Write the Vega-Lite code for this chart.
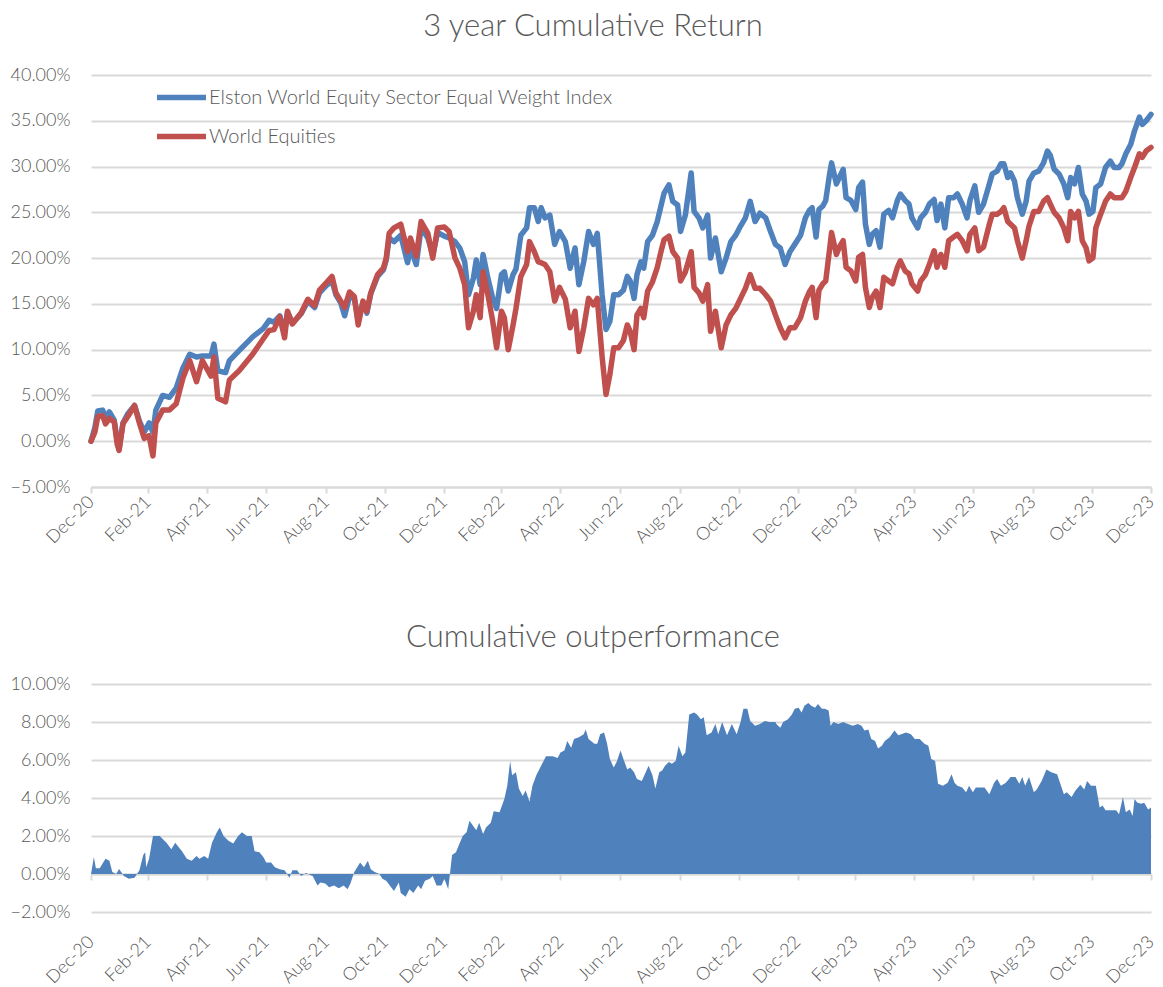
{
  "$schema": "https://vega.github.io/schema/vega-lite/v6.json",
  "background": "white",
  "padding": {"left": 10, "top": 11, "right": 0, "bottom": 0},
  "spacing": 75,
  "config": {
    "font": "Lato",
    "view": {"stroke": null},
    "axis": {"labelColor": "#595959", "labelFont": "Lato", "labelFontSize": 18, "labelFontWeight": 300, "gridColor": "#D9D9D9", "gridWidth": 2, "domainColor": "#D9D9D9", "domainWidth": 2, "tickColor": "#D9D9D9", "tickWidth": 2, "title": null},
    "title": {"font": "Lato", "fontSize": 31, "fontWeight": 300, "color": "#595959", "anchor": "middle", "dx": -28},
    "legend": {"labelFont": "Lato", "labelFontWeight": 300}
  },
  "datasets": {
    "perf": [
      {"date": "2020-12-31", "elston": 0, "world": 0},
      {"date": "2021-01-04", "elston": 1.5, "world": 1.0},
      {"date": "2021-01-07", "elston": 3.3, "world": 2.7},
      {"date": "2021-01-12", "elston": 3.4, "world": 2.8},
      {"date": "2021-01-15", "elston": 2.6, "world": 1.9},
      {"date": "2021-01-19", "elston": 3.2, "world": 2.5},
      {"date": "2021-01-24", "elston": 2.3, "world": 2.1},
      {"date": "2021-01-27", "elston": 0.2, "world": -0.3},
      {"date": "2021-01-29", "elston": -0.9, "world": -1.0},
      {"date": "2021-02-02", "elston": 2.0, "world": 1.9},
      {"date": "2021-02-07", "elston": 3.0, "world": 2.7},
      {"date": "2021-02-14", "elston": 3.9, "world": 3.9},
      {"date": "2021-02-19", "elston": 2.2, "world": 2.0},
      {"date": "2021-02-24", "elston": 1.0, "world": 0.3},
      {"date": "2021-03-01", "elston": 2.0, "world": 0.6},
      {"date": "2021-03-05", "elston": 1.0, "world": -1.6},
      {"date": "2021-03-08", "elston": 3.4, "world": 2.0},
      {"date": "2021-03-15", "elston": 5.0, "world": 3.4},
      {"date": "2021-03-22", "elston": 4.8, "world": 3.4},
      {"date": "2021-03-29", "elston": 5.8, "world": 4.1},
      {"date": "2021-04-05", "elston": 8.0, "world": 6.9},
      {"date": "2021-04-12", "elston": 9.5, "world": 8.8},
      {"date": "2021-04-19", "elston": 9.2, "world": 6.5},
      {"date": "2021-04-25", "elston": 9.3, "world": 8.8},
      {"date": "2021-05-04", "elston": 9.3, "world": 7.1},
      {"date": "2021-05-07", "elston": 10.6, "world": 9.2},
      {"date": "2021-05-11", "elston": 7.7, "world": 4.7},
      {"date": "2021-05-19", "elston": 7.5, "world": 4.3},
      {"date": "2021-05-23", "elston": 8.8, "world": 6.7},
      {"date": "2021-06-02", "elston": 9.9, "world": 7.7},
      {"date": "2021-06-16", "elston": 11.4, "world": 9.5},
      {"date": "2021-06-27", "elston": 12.3, "world": 11.2},
      {"date": "2021-07-03", "elston": 13.2, "world": 12.1},
      {"date": "2021-07-08", "elston": 13.0, "world": 12.2},
      {"date": "2021-07-14", "elston": 13.7, "world": 13.6},
      {"date": "2021-07-19", "elston": 12.0, "world": 11.3},
      {"date": "2021-07-22", "elston": 14.1, "world": 14.2},
      {"date": "2021-07-27", "elston": 12.9, "world": 12.8},
      {"date": "2021-08-05", "elston": 13.9, "world": 14.0},
      {"date": "2021-08-12", "elston": 15.3, "world": 15.5},
      {"date": "2021-08-19", "elston": 14.6, "world": 14.8},
      {"date": "2021-08-24", "elston": 16.2, "world": 16.5},
      {"date": "2021-08-31", "elston": 17.0, "world": 17.3},
      {"date": "2021-09-06", "elston": 17.5, "world": 18.0},
      {"date": "2021-09-10", "elston": 16.0, "world": 16.2},
      {"date": "2021-09-15", "elston": 15.1, "world": 15.3},
      {"date": "2021-09-19", "elston": 13.7, "world": 14.6},
      {"date": "2021-09-24", "elston": 15.8, "world": 16.3},
      {"date": "2021-09-29", "elston": 15.6, "world": 15.8},
      {"date": "2021-10-03", "elston": 13.3, "world": 12.7},
      {"date": "2021-10-08", "elston": 15.2, "world": 15.3},
      {"date": "2021-10-12", "elston": 14.0, "world": 14.2},
      {"date": "2021-10-16", "elston": 16.1, "world": 16.2},
      {"date": "2021-10-23", "elston": 18.0, "world": 18.2},
      {"date": "2021-10-29", "elston": 18.7, "world": 18.9},
      {"date": "2021-11-01", "elston": 19.8, "world": 20.0},
      {"date": "2021-11-04", "elston": 22.2, "world": 22.7},
      {"date": "2021-11-09", "elston": 21.8, "world": 23.3},
      {"date": "2021-11-16", "elston": 22.5, "world": 23.7},
      {"date": "2021-11-23", "elston": 19.5, "world": 20.7},
      {"date": "2021-11-26", "elston": 21.1, "world": 22.2},
      {"date": "2021-12-02", "elston": 19.3, "world": 20.2},
      {"date": "2021-12-07", "elston": 23.3, "world": 24.0},
      {"date": "2021-12-14", "elston": 22.2, "world": 22.7},
      {"date": "2021-12-19", "elston": 20.3, "world": 20.0},
      {"date": "2021-12-24", "elston": 22.8, "world": 23.3},
      {"date": "2021-12-31", "elston": 22.4, "world": 23.4},
      {"date": "2022-01-05", "elston": 22.2, "world": 22.9},
      {"date": "2022-01-11", "elston": 21.8, "world": 20.0},
      {"date": "2022-01-16", "elston": 21.1, "world": 18.9},
      {"date": "2022-01-21", "elston": 19.6, "world": 17.1},
      {"date": "2022-01-25", "elston": 16.0, "world": 12.4},
      {"date": "2022-01-30", "elston": 17.8, "world": 14.2},
      {"date": "2022-02-02", "elston": 19.8, "world": 16.0},
      {"date": "2022-02-06", "elston": 17.1, "world": 13.5},
      {"date": "2022-02-09", "elston": 20.4, "world": 18.5},
      {"date": "2022-02-14", "elston": 17.8, "world": 16.0},
      {"date": "2022-02-19", "elston": 15.6, "world": 13.1},
      {"date": "2022-02-23", "elston": 14.5, "world": 10.2},
      {"date": "2022-02-28", "elston": 18.2, "world": 14.2},
      {"date": "2022-03-03", "elston": 18.5, "world": 13.5},
      {"date": "2022-03-07", "elston": 16.4, "world": 10.0},
      {"date": "2022-03-12", "elston": 18.2, "world": 12.7},
      {"date": "2022-03-15", "elston": 18.8, "world": 14.5},
      {"date": "2022-03-20", "elston": 22.5, "world": 18.0},
      {"date": "2022-03-26", "elston": 23.3, "world": 19.3},
      {"date": "2022-03-29", "elston": 25.5, "world": 21.8},
      {"date": "2022-04-03", "elston": 25.5, "world": 20.7},
      {"date": "2022-04-07", "elston": 24.0, "world": 19.6},
      {"date": "2022-04-10", "elston": 25.5, "world": 19.5},
      {"date": "2022-04-14", "elston": 24.4, "world": 19.3},
      {"date": "2022-04-19", "elston": 24.7, "world": 18.5},
      {"date": "2022-04-24", "elston": 21.5, "world": 15.3},
      {"date": "2022-04-29", "elston": 22.9, "world": 16.8},
      {"date": "2022-05-05", "elston": 21.8, "world": 15.5},
      {"date": "2022-05-10", "elston": 18.9, "world": 12.4},
      {"date": "2022-05-15", "elston": 21.1, "world": 14.2},
      {"date": "2022-05-19", "elston": 17.1, "world": 9.8},
      {"date": "2022-05-24", "elston": 19.6, "world": 12.4},
      {"date": "2022-05-29", "elston": 22.9, "world": 15.6},
      {"date": "2022-06-03", "elston": 21.5, "world": 14.9},
      {"date": "2022-06-07", "elston": 22.7, "world": 15.6},
      {"date": "2022-06-12", "elston": 16.0, "world": 9.2},
      {"date": "2022-06-16", "elston": 12.2, "world": 5.1},
      {"date": "2022-06-20", "elston": 13.1, "world": 7.3},
      {"date": "2022-06-24", "elston": 16.0, "world": 10.2},
      {"date": "2022-06-29", "elston": 16.0, "world": 10.2},
      {"date": "2022-07-04", "elston": 16.5, "world": 11.0},
      {"date": "2022-07-08", "elston": 18.0, "world": 12.7},
      {"date": "2022-07-11", "elston": 17.5, "world": 12.0},
      {"date": "2022-07-15", "elston": 15.6, "world": 10.0},
      {"date": "2022-07-18", "elston": 18.2, "world": 13.8},
      {"date": "2022-07-22", "elston": 19.6, "world": 14.5},
      {"date": "2022-07-25", "elston": 18.9, "world": 13.5},
      {"date": "2022-07-29", "elston": 21.8, "world": 16.4},
      {"date": "2022-08-03", "elston": 22.5, "world": 17.4},
      {"date": "2022-08-08", "elston": 24.0, "world": 19.0},
      {"date": "2022-08-12", "elston": 25.8, "world": 20.8},
      {"date": "2022-08-15", "elston": 27.1, "world": 22.0},
      {"date": "2022-08-20", "elston": 28.0, "world": 22.4},
      {"date": "2022-08-24", "elston": 26.2, "world": 20.7},
      {"date": "2022-08-29", "elston": 25.8, "world": 20.0},
      {"date": "2022-09-01", "elston": 22.9, "world": 17.5},
      {"date": "2022-09-06", "elston": 24.7, "world": 18.5},
      {"date": "2022-09-12", "elston": 29.3, "world": 20.7},
      {"date": "2022-09-15", "elston": 25.1, "world": 16.8},
      {"date": "2022-09-20", "elston": 24.4, "world": 16.2},
      {"date": "2022-09-24", "elston": 23.3, "world": 15.3},
      {"date": "2022-09-29", "elston": 24.7, "world": 17.1},
      {"date": "2022-10-02", "elston": 20.0, "world": 12.0},
      {"date": "2022-10-07", "elston": 22.2, "world": 14.2},
      {"date": "2022-10-13", "elston": 18.5, "world": 10.2},
      {"date": "2022-10-18", "elston": 20.0, "world": 12.7},
      {"date": "2022-10-23", "elston": 21.8, "world": 13.8},
      {"date": "2022-10-28", "elston": 22.5, "world": 14.5},
      {"date": "2022-11-02", "elston": 23.5, "world": 15.6},
      {"date": "2022-11-07", "elston": 24.4, "world": 16.7},
      {"date": "2022-11-12", "elston": 26.2, "world": 18.2},
      {"date": "2022-11-17", "elston": 24.0, "world": 16.7},
      {"date": "2022-11-22", "elston": 24.9, "world": 16.7},
      {"date": "2022-11-28", "elston": 24.4, "world": 16.0},
      {"date": "2022-12-03", "elston": 22.9, "world": 15.3},
      {"date": "2022-12-08", "elston": 21.5, "world": 13.8},
      {"date": "2022-12-13", "elston": 21.1, "world": 12.4},
      {"date": "2022-12-18", "elston": 19.3, "world": 11.3},
      {"date": "2022-12-23", "elston": 20.7, "world": 12.4},
      {"date": "2022-12-28", "elston": 21.5, "world": 12.4},
      {"date": "2023-01-03", "elston": 22.5, "world": 13.5},
      {"date": "2023-01-08", "elston": 24.4, "world": 15.3},
      {"date": "2023-01-12", "elston": 25.2, "world": 16.3},
      {"date": "2023-01-15", "elston": 25.5, "world": 16.8},
      {"date": "2023-01-19", "elston": 22.3, "world": 13.5},
      {"date": "2023-01-22", "elston": 25.3, "world": 16.5},
      {"date": "2023-01-26", "elston": 25.7, "world": 17.2},
      {"date": "2023-01-29", "elston": 26.3, "world": 17.5},
      {"date": "2023-02-02", "elston": 29.2, "world": 21.0},
      {"date": "2023-02-04", "elston": 30.4, "world": 22.8},
      {"date": "2023-02-09", "elston": 28.1, "world": 20.4},
      {"date": "2023-02-12", "elston": 28.8, "world": 21.2},
      {"date": "2023-02-16", "elston": 29.7, "world": 21.9},
      {"date": "2023-02-19", "elston": 26.6, "world": 19.0},
      {"date": "2023-02-24", "elston": 26.3, "world": 18.6},
      {"date": "2023-03-01", "elston": 25.3, "world": 17.5},
      {"date": "2023-03-04", "elston": 27.7, "world": 20.1},
      {"date": "2023-03-08", "elston": 28.3, "world": 20.4},
      {"date": "2023-03-11", "elston": 23.7, "world": 16.8},
      {"date": "2023-03-15", "elston": 21.5, "world": 14.6},
      {"date": "2023-03-18", "elston": 22.6, "world": 15.7},
      {"date": "2023-03-22", "elston": 23.0, "world": 16.4},
      {"date": "2023-03-26", "elston": 21.2, "world": 14.6},
      {"date": "2023-03-30", "elston": 24.8, "world": 17.9},
      {"date": "2023-04-04", "elston": 25.2, "world": 17.5},
      {"date": "2023-04-08", "elston": 24.4, "world": 17.2},
      {"date": "2023-04-13", "elston": 26.3, "world": 19.0},
      {"date": "2023-04-16", "elston": 27.0, "world": 19.7},
      {"date": "2023-04-21", "elston": 26.3, "world": 18.6},
      {"date": "2023-04-25", "elston": 25.9, "world": 18.3},
      {"date": "2023-04-28", "elston": 24.4, "world": 17.2},
      {"date": "2023-05-04", "elston": 23.3, "world": 16.4},
      {"date": "2023-05-07", "elston": 24.4, "world": 17.5},
      {"date": "2023-05-12", "elston": 25.0, "world": 18.2},
      {"date": "2023-05-16", "elston": 25.9, "world": 19.3},
      {"date": "2023-05-21", "elston": 26.4, "world": 20.8},
      {"date": "2023-05-24", "elston": 24.1, "world": 19.0},
      {"date": "2023-05-28", "elston": 25.9, "world": 20.4},
      {"date": "2023-06-01", "elston": 23.3, "world": 19.0},
      {"date": "2023-06-05", "elston": 26.6, "world": 21.9},
      {"date": "2023-06-10", "elston": 26.6, "world": 22.3},
      {"date": "2023-06-14", "elston": 27.0, "world": 22.6},
      {"date": "2023-06-19", "elston": 25.9, "world": 21.9},
      {"date": "2023-06-24", "elston": 24.4, "world": 20.8},
      {"date": "2023-06-27", "elston": 26.3, "world": 22.6},
      {"date": "2023-07-02", "elston": 27.9, "world": 23.3},
      {"date": "2023-07-06", "elston": 25.0, "world": 20.8},
      {"date": "2023-07-11", "elston": 25.9, "world": 21.2},
      {"date": "2023-07-17", "elston": 28.1, "world": 23.7},
      {"date": "2023-07-20", "elston": 29.2, "world": 24.8},
      {"date": "2023-07-25", "elston": 29.5, "world": 24.8},
      {"date": "2023-07-29", "elston": 30.3, "world": 25.1},
      {"date": "2023-08-01", "elston": 30.3, "world": 25.5},
      {"date": "2023-08-05", "elston": 28.8, "world": 24.0},
      {"date": "2023-08-08", "elston": 29.3, "world": 23.7},
      {"date": "2023-08-12", "elston": 28.4, "world": 23.3},
      {"date": "2023-08-15", "elston": 26.6, "world": 21.9},
      {"date": "2023-08-20", "elston": 24.8, "world": 20.0},
      {"date": "2023-08-24", "elston": 26.2, "world": 21.9},
      {"date": "2023-08-27", "elston": 28.4, "world": 23.5},
      {"date": "2023-09-01", "elston": 29.3, "world": 25.1},
      {"date": "2023-09-06", "elston": 29.5, "world": 25.1},
      {"date": "2023-09-11", "elston": 30.4, "world": 26.2},
      {"date": "2023-09-15", "elston": 31.7, "world": 26.6},
      {"date": "2023-09-18", "elston": 31.2, "world": 25.9},
      {"date": "2023-09-22", "elston": 29.7, "world": 25.0},
      {"date": "2023-09-27", "elston": 29.2, "world": 24.4},
      {"date": "2023-10-02", "elston": 28.1, "world": 23.3},
      {"date": "2023-10-06", "elston": 26.6, "world": 21.9},
      {"date": "2023-10-09", "elston": 28.8, "world": 25.1},
      {"date": "2023-10-13", "elston": 28.1, "world": 24.4},
      {"date": "2023-10-17", "elston": 29.9, "world": 25.1},
      {"date": "2023-10-21", "elston": 27.0, "world": 21.9},
      {"date": "2023-10-25", "elston": 26.2, "world": 21.1},
      {"date": "2023-10-28", "elston": 24.8, "world": 19.7},
      {"date": "2023-11-01", "elston": 25.1, "world": 20.0},
      {"date": "2023-11-04", "elston": 27.7, "world": 23.3},
      {"date": "2023-11-09", "elston": 28.1, "world": 24.8},
      {"date": "2023-11-14", "elston": 29.9, "world": 26.2},
      {"date": "2023-11-19", "elston": 30.6, "world": 27.0},
      {"date": "2023-11-23", "elston": 29.9, "world": 26.6},
      {"date": "2023-11-28", "elston": 29.9, "world": 26.6},
      {"date": "2023-12-01", "elston": 30.3, "world": 26.6},
      {"date": "2023-12-05", "elston": 31.4, "world": 27.3},
      {"date": "2023-12-10", "elston": 32.4, "world": 28.8},
      {"date": "2023-12-14", "elston": 33.9, "world": 29.9},
      {"date": "2023-12-19", "elston": 35.4, "world": 31.4},
      {"date": "2023-12-22", "elston": 34.6, "world": 31.0},
      {"date": "2023-12-26", "elston": 35.0, "world": 31.7},
      {"date": "2023-12-31", "elston": 35.7, "world": 32.1}
    ],
    "outperf": [
      {"date": "2020-12-31", "v": 0},
      {"date": "2021-01-03", "v": 0.9},
      {"date": "2021-01-05", "v": 0.3},
      {"date": "2021-01-09", "v": 0.3},
      {"date": "2021-01-15", "v": 0.8},
      {"date": "2021-01-19", "v": 0.7},
      {"date": "2021-01-22", "v": 0.1},
      {"date": "2021-01-26", "v": 0.0},
      {"date": "2021-01-29", "v": 0.26},
      {"date": "2021-02-03", "v": -0.1},
      {"date": "2021-02-08", "v": -0.25},
      {"date": "2021-02-14", "v": -0.2},
      {"date": "2021-02-19", "v": 0.2},
      {"date": "2021-02-23", "v": 1.0},
      {"date": "2021-02-25", "v": 1.15},
      {"date": "2021-02-26", "v": 0.35},
      {"date": "2021-03-01", "v": 0.8},
      {"date": "2021-03-05", "v": 2.0},
      {"date": "2021-03-12", "v": 2.0},
      {"date": "2021-03-19", "v": 1.65},
      {"date": "2021-03-24", "v": 1.3},
      {"date": "2021-03-28", "v": 1.65},
      {"date": "2021-04-04", "v": 1.2},
      {"date": "2021-04-09", "v": 0.8},
      {"date": "2021-04-14", "v": 0.7},
      {"date": "2021-04-19", "v": 0.95},
      {"date": "2021-04-22", "v": 0.8},
      {"date": "2021-04-27", "v": 0.95},
      {"date": "2021-05-01", "v": 0.8},
      {"date": "2021-05-05", "v": 1.65},
      {"date": "2021-05-10", "v": 2.2},
      {"date": "2021-05-13", "v": 2.45},
      {"date": "2021-05-17", "v": 2.0},
      {"date": "2021-05-22", "v": 1.75},
      {"date": "2021-05-27", "v": 1.6},
      {"date": "2021-06-01", "v": 2.0},
      {"date": "2021-06-05", "v": 2.2},
      {"date": "2021-06-10", "v": 2.0},
      {"date": "2021-06-15", "v": 2.0},
      {"date": "2021-06-18", "v": 1.2},
      {"date": "2021-06-23", "v": 1.15},
      {"date": "2021-06-27", "v": 0.9},
      {"date": "2021-06-30", "v": 0.6},
      {"date": "2021-07-05", "v": 0.6},
      {"date": "2021-07-09", "v": 0.35},
      {"date": "2021-07-14", "v": 0.25},
      {"date": "2021-07-19", "v": 0.2},
      {"date": "2021-07-24", "v": -0.2},
      {"date": "2021-07-27", "v": 0.2},
      {"date": "2021-08-01", "v": 0.2},
      {"date": "2021-08-05", "v": -0.1},
      {"date": "2021-08-10", "v": 0.05},
      {"date": "2021-08-17", "v": -0.1},
      {"date": "2021-08-22", "v": -0.6},
      {"date": "2021-08-25", "v": -0.45},
      {"date": "2021-08-30", "v": -0.5},
      {"date": "2021-09-03", "v": -0.7},
      {"date": "2021-09-08", "v": -0.6},
      {"date": "2021-09-13", "v": -0.75},
      {"date": "2021-09-18", "v": -0.6},
      {"date": "2021-09-22", "v": -0.8},
      {"date": "2021-09-25", "v": -0.5},
      {"date": "2021-09-29", "v": 0.1},
      {"date": "2021-10-05", "v": 0.6},
      {"date": "2021-10-09", "v": 0.35},
      {"date": "2021-10-13", "v": 0.7},
      {"date": "2021-10-16", "v": 0.25},
      {"date": "2021-10-20", "v": 0.1},
      {"date": "2021-10-25", "v": 0.0},
      {"date": "2021-10-28", "v": -0.25},
      {"date": "2021-11-01", "v": -0.35},
      {"date": "2021-11-06", "v": -0.7},
      {"date": "2021-11-09", "v": -0.9},
      {"date": "2021-11-14", "v": -0.45},
      {"date": "2021-11-16", "v": -1.0},
      {"date": "2021-11-21", "v": -1.2},
      {"date": "2021-11-25", "v": -0.8},
      {"date": "2021-11-29", "v": -1.0},
      {"date": "2021-12-04", "v": -0.6},
      {"date": "2021-12-07", "v": -0.8},
      {"date": "2021-12-11", "v": -0.35},
      {"date": "2021-12-16", "v": -0.25},
      {"date": "2021-12-19", "v": -0.1},
      {"date": "2021-12-23", "v": -0.6},
      {"date": "2021-12-28", "v": -0.6},
      {"date": "2021-12-31", "v": -0.25},
      {"date": "2022-01-04", "v": -0.8},
      {"date": "2022-01-06", "v": 0.1},
      {"date": "2022-01-08", "v": 1.0},
      {"date": "2022-01-12", "v": 1.15},
      {"date": "2022-01-16", "v": 1.65},
      {"date": "2022-01-19", "v": 2.0},
      {"date": "2022-01-23", "v": 2.2},
      {"date": "2022-01-26", "v": 2.8},
      {"date": "2022-02-02", "v": 2.3},
      {"date": "2022-02-05", "v": 2.7},
      {"date": "2022-02-09", "v": 2.1},
      {"date": "2022-02-12", "v": 2.45},
      {"date": "2022-02-17", "v": 2.7},
      {"date": "2022-02-20", "v": 3.3},
      {"date": "2022-02-26", "v": 3.25},
      {"date": "2022-03-03", "v": 3.95},
      {"date": "2022-03-06", "v": 4.65},
      {"date": "2022-03-09", "v": 5.95},
      {"date": "2022-03-11", "v": 5.2},
      {"date": "2022-03-15", "v": 5.35},
      {"date": "2022-03-18", "v": 4.5},
      {"date": "2022-03-22", "v": 4.1},
      {"date": "2022-03-25", "v": 4.4},
      {"date": "2022-03-29", "v": 3.8},
      {"date": "2022-04-01", "v": 4.65},
      {"date": "2022-04-05", "v": 5.2},
      {"date": "2022-04-08", "v": 5.5},
      {"date": "2022-04-12", "v": 5.9},
      {"date": "2022-04-15", "v": 6.2},
      {"date": "2022-04-22", "v": 6.2},
      {"date": "2022-04-27", "v": 6.1},
      {"date": "2022-04-30", "v": 6.4},
      {"date": "2022-05-04", "v": 6.5},
      {"date": "2022-05-07", "v": 7.0},
      {"date": "2022-05-11", "v": 6.65},
      {"date": "2022-05-14", "v": 7.1},
      {"date": "2022-05-19", "v": 7.2},
      {"date": "2022-05-24", "v": 7.35},
      {"date": "2022-05-26", "v": 7.6},
      {"date": "2022-05-29", "v": 7.1},
      {"date": "2022-06-04", "v": 6.85},
      {"date": "2022-06-07", "v": 6.85},
      {"date": "2022-06-10", "v": 7.35},
      {"date": "2022-06-14", "v": 7.45},
      {"date": "2022-06-17", "v": 6.9},
      {"date": "2022-06-20", "v": 6.05},
      {"date": "2022-06-24", "v": 5.6},
      {"date": "2022-06-27", "v": 5.9},
      {"date": "2022-07-01", "v": 6.5},
      {"date": "2022-07-04", "v": 6.05},
      {"date": "2022-07-08", "v": 5.5},
      {"date": "2022-07-11", "v": 5.6},
      {"date": "2022-07-15", "v": 5.35},
      {"date": "2022-07-18", "v": 5.0},
      {"date": "2022-07-23", "v": 4.9},
      {"date": "2022-07-27", "v": 5.35},
      {"date": "2022-07-30", "v": 5.7},
      {"date": "2022-08-03", "v": 5.2},
      {"date": "2022-08-06", "v": 4.5},
      {"date": "2022-08-10", "v": 5.35},
      {"date": "2022-08-13", "v": 5.45},
      {"date": "2022-08-16", "v": 5.7},
      {"date": "2022-08-20", "v": 5.9},
      {"date": "2022-08-23", "v": 5.8},
      {"date": "2022-08-27", "v": 5.95},
      {"date": "2022-08-30", "v": 6.75},
      {"date": "2022-09-03", "v": 6.2},
      {"date": "2022-09-06", "v": 6.4},
      {"date": "2022-09-10", "v": 8.4},
      {"date": "2022-09-15", "v": 8.5},
      {"date": "2022-09-18", "v": 8.4},
      {"date": "2022-09-22", "v": 8.15},
      {"date": "2022-09-25", "v": 8.25},
      {"date": "2022-09-28", "v": 7.3},
      {"date": "2022-10-03", "v": 7.45},
      {"date": "2022-10-07", "v": 7.9},
      {"date": "2022-10-10", "v": 7.35},
      {"date": "2022-10-14", "v": 8.0},
      {"date": "2022-10-19", "v": 7.3},
      {"date": "2022-10-24", "v": 7.9},
      {"date": "2022-10-29", "v": 7.35},
      {"date": "2022-11-02", "v": 8.0},
      {"date": "2022-11-05", "v": 8.7},
      {"date": "2022-11-09", "v": 8.7},
      {"date": "2022-11-12", "v": 8.05},
      {"date": "2022-11-17", "v": 7.8},
      {"date": "2022-11-22", "v": 7.9},
      {"date": "2022-11-27", "v": 8.05},
      {"date": "2022-12-02", "v": 8.0},
      {"date": "2022-12-08", "v": 8.0},
      {"date": "2022-12-09", "v": 7.9},
      {"date": "2022-12-13", "v": 7.7},
      {"date": "2022-12-16", "v": 8.0},
      {"date": "2022-12-21", "v": 8.15},
      {"date": "2022-12-25", "v": 8.4},
      {"date": "2022-12-28", "v": 8.7},
      {"date": "2023-01-01", "v": 8.75},
      {"date": "2023-01-04", "v": 8.5},
      {"date": "2023-01-07", "v": 8.85},
      {"date": "2023-01-11", "v": 9.0},
      {"date": "2023-01-14", "v": 8.85},
      {"date": "2023-01-18", "v": 8.75},
      {"date": "2023-01-21", "v": 8.95},
      {"date": "2023-01-25", "v": 8.7},
      {"date": "2023-01-28", "v": 8.7},
      {"date": "2023-02-01", "v": 8.6},
      {"date": "2023-02-03", "v": 7.8},
      {"date": "2023-02-06", "v": 8.0},
      {"date": "2023-02-11", "v": 7.9},
      {"date": "2023-02-16", "v": 8.0},
      {"date": "2023-02-21", "v": 7.9},
      {"date": "2023-02-26", "v": 7.8},
      {"date": "2023-03-03", "v": 7.9},
      {"date": "2023-03-07", "v": 7.8},
      {"date": "2023-03-10", "v": 7.55},
      {"date": "2023-03-14", "v": 7.6},
      {"date": "2023-03-17", "v": 7.1},
      {"date": "2023-03-21", "v": 7.0},
      {"date": "2023-03-24", "v": 6.6},
      {"date": "2023-03-28", "v": 6.75},
      {"date": "2023-03-31", "v": 7.0},
      {"date": "2023-04-05", "v": 7.2},
      {"date": "2023-04-10", "v": 7.55},
      {"date": "2023-04-14", "v": 7.3},
      {"date": "2023-04-17", "v": 7.35},
      {"date": "2023-04-22", "v": 7.45},
      {"date": "2023-04-27", "v": 7.35},
      {"date": "2023-05-01", "v": 7.1},
      {"date": "2023-05-06", "v": 7.1},
      {"date": "2023-05-11", "v": 6.85},
      {"date": "2023-05-15", "v": 6.75},
      {"date": "2023-05-18", "v": 6.05},
      {"date": "2023-05-22", "v": 5.95},
      {"date": "2023-05-25", "v": 4.75},
      {"date": "2023-05-30", "v": 4.65},
      {"date": "2023-06-04", "v": 4.8},
      {"date": "2023-06-08", "v": 5.25},
      {"date": "2023-06-11", "v": 4.8},
      {"date": "2023-06-14", "v": 4.65},
      {"date": "2023-06-19", "v": 4.55},
      {"date": "2023-06-23", "v": 4.3},
      {"date": "2023-06-26", "v": 4.65},
      {"date": "2023-06-30", "v": 4.3},
      {"date": "2023-07-03", "v": 4.55},
      {"date": "2023-07-07", "v": 4.55},
      {"date": "2023-07-12", "v": 4.55},
      {"date": "2023-07-17", "v": 4.2},
      {"date": "2023-07-22", "v": 4.8},
      {"date": "2023-07-25", "v": 5.0},
      {"date": "2023-07-29", "v": 4.65},
      {"date": "2023-08-03", "v": 4.8},
      {"date": "2023-08-08", "v": 5.1},
      {"date": "2023-08-13", "v": 5.1},
      {"date": "2023-08-17", "v": 4.75},
      {"date": "2023-08-20", "v": 5.1},
      {"date": "2023-08-23", "v": 4.65},
      {"date": "2023-08-27", "v": 5.1},
      {"date": "2023-09-01", "v": 4.3},
      {"date": "2023-09-04", "v": 4.45},
      {"date": "2023-09-09", "v": 4.9},
      {"date": "2023-09-14", "v": 5.5},
      {"date": "2023-09-19", "v": 5.35},
      {"date": "2023-09-25", "v": 5.25},
      {"date": "2023-09-28", "v": 4.8},
      {"date": "2023-10-02", "v": 4.2},
      {"date": "2023-10-05", "v": 4.3},
      {"date": "2023-10-10", "v": 4.05},
      {"date": "2023-10-14", "v": 4.4},
      {"date": "2023-10-19", "v": 4.7},
      {"date": "2023-10-23", "v": 4.45},
      {"date": "2023-10-26", "v": 4.9},
      {"date": "2023-10-30", "v": 4.65},
      {"date": "2023-11-04", "v": 4.65},
      {"date": "2023-11-08", "v": 3.5},
      {"date": "2023-11-11", "v": 3.6},
      {"date": "2023-11-14", "v": 3.35},
      {"date": "2023-11-19", "v": 3.35},
      {"date": "2023-11-25", "v": 3.35},
      {"date": "2023-11-28", "v": 3.15},
      {"date": "2023-12-02", "v": 4.05},
      {"date": "2023-12-05", "v": 3.25},
      {"date": "2023-12-09", "v": 3.4},
      {"date": "2023-12-12", "v": 3.05},
      {"date": "2023-12-14", "v": 3.95},
      {"date": "2023-12-17", "v": 3.75},
      {"date": "2023-12-21", "v": 3.7},
      {"date": "2023-12-24", "v": 3.75},
      {"date": "2023-12-28", "v": 3.4},
      {"date": "2023-12-31", "v": 3.5}
    ]
  },
  "vconcat": [
    {
      "width": 1060,
      "height": 412,
      "title": {"text": "3 year Cumulative Return", "offset": 23},
      "data": {"name": "perf"},
      "transform": [{"fold": ["elston", "world"], "as": ["series", "value"]}],
      "mark": {"type": "line", "strokeWidth": 5.5, "strokeJoin": "round", "strokeCap": "round"},
      "encoding": {
        "x": {
          "field": "date", "type": "temporal",
          "scale": {"type": "utc", "domain": [{"year": 2020, "month": 12, "date": 31, "utc": true}, {"year": 2023, "month": 12, "date": 31, "utc": true}]},
          "axis": {
            "grid": false, "labelExpr": "utcFormat(datum.value, '%b-%y')", "labelAngle": -45, "labelAlign": "right", "labelBaseline": "middle",
            "tickSize": 6, "labelPadding": 6, "labelOverlap": false,
            "values": [
              {"year": 2020, "month": 12, "date": 31, "utc": true},
              {"year": 2021, "month": 2, "date": 28, "utc": true},
              {"year": 2021, "month": 4, "date": 30, "utc": true},
              {"year": 2021, "month": 6, "date": 30, "utc": true},
              {"year": 2021, "month": 8, "date": 31, "utc": true},
              {"year": 2021, "month": 10, "date": 31, "utc": true},
              {"year": 2021, "month": 12, "date": 31, "utc": true},
              {"year": 2022, "month": 2, "date": 28, "utc": true},
              {"year": 2022, "month": 4, "date": 30, "utc": true},
              {"year": 2022, "month": 6, "date": 30, "utc": true},
              {"year": 2022, "month": 8, "date": 31, "utc": true},
              {"year": 2022, "month": 10, "date": 31, "utc": true},
              {"year": 2022, "month": 12, "date": 31, "utc": true},
              {"year": 2023, "month": 2, "date": 28, "utc": true},
              {"year": 2023, "month": 4, "date": 30, "utc": true},
              {"year": 2023, "month": 6, "date": 30, "utc": true},
              {"year": 2023, "month": 8, "date": 31, "utc": true},
              {"year": 2023, "month": 10, "date": 31, "utc": true},
              {"year": 2023, "month": 12, "date": 31, "utc": true}
            ]
          }
        },
        "y": {
          "field": "value", "type": "quantitative",
          "scale": {"domain": [-5, 40], "nice": false, "zero": false},
          "axis": {"values": [-5, 0, 5, 10, 15, 20, 25, 30, 35, 40], "labelExpr": "format(datum.value, '.2f') + '%'", "domain": false, "ticks": false, "labelPadding": 21}
        },
        "color": {
          "field": "series", "type": "nominal",
          "scale": {"domain": ["elston", "world"], "range": ["#4F81BD", "#C0504D"]},
          "legend": {
            "orient": "none", "legendX": 63, "legendY": -5, "title": null, "direction": "vertical",
            "symbolType": "stroke", "symbolSize": 2400, "symbolStrokeWidth": 5.5, "labelFontSize": 20, "labelColor": "#595959",
            "labelOffset": 0, "rowPadding": 0, "labelLimit": 800,
            "labelExpr": "datum.label == 'elston' ? 'Elston World Equity Sector Equal Weight Index' : 'World Equities'"
          }
        }
      }
    },
    {
      "width": 1060,
      "height": 228,
      "title": {"text": "Cumulative outperformance", "offset": 21},
      "data": {"name": "outperf"},
      "mark": {"type": "area", "color": "#4F81BD"},
      "encoding": {
        "x": {
          "field": "date", "type": "temporal",
          "scale": {"type": "utc", "domain": [{"year": 2020, "month": 12, "date": 31, "utc": true}, {"year": 2023, "month": 12, "date": 31, "utc": true}]},
          "axis": {
            "grid": false, "labelExpr": "utcFormat(datum.value, '%b-%y')", "labelAngle": -45, "labelAlign": "right", "labelBaseline": "middle",
            "tickSize": 6, "offset": -38, "labelPadding": 59, "labelOverlap": false,
            "values": [
              {"year": 2020, "month": 12, "date": 31, "utc": true},
              {"year": 2021, "month": 2, "date": 28, "utc": true},
              {"year": 2021, "month": 4, "date": 30, "utc": true},
              {"year": 2021, "month": 6, "date": 30, "utc": true},
              {"year": 2021, "month": 8, "date": 31, "utc": true},
              {"year": 2021, "month": 10, "date": 31, "utc": true},
              {"year": 2021, "month": 12, "date": 31, "utc": true},
              {"year": 2022, "month": 2, "date": 28, "utc": true},
              {"year": 2022, "month": 4, "date": 30, "utc": true},
              {"year": 2022, "month": 6, "date": 30, "utc": true},
              {"year": 2022, "month": 8, "date": 31, "utc": true},
              {"year": 2022, "month": 10, "date": 31, "utc": true},
              {"year": 2022, "month": 12, "date": 31, "utc": true},
              {"year": 2023, "month": 2, "date": 28, "utc": true},
              {"year": 2023, "month": 4, "date": 30, "utc": true},
              {"year": 2023, "month": 6, "date": 30, "utc": true},
              {"year": 2023, "month": 8, "date": 31, "utc": true},
              {"year": 2023, "month": 10, "date": 31, "utc": true},
              {"year": 2023, "month": 12, "date": 31, "utc": true}
            ]
          }
        },
        "y": {
          "field": "v", "type": "quantitative",
          "scale": {"domain": [-2, 10], "nice": false, "zero": false},
          "axis": {"values": [-2, 0, 2, 4, 6, 8, 10], "labelExpr": "format(datum.value, '.2f') + '%'", "domain": false, "ticks": false, "labelPadding": 21}
        }
      }
    }
  ]
}
